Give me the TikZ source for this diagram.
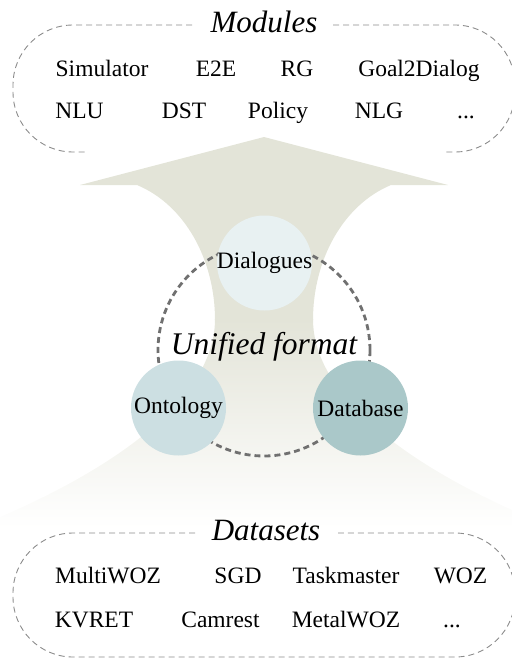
\documentclass[tikz,border=0pt]{standalone}
\usepackage{fontspec}
\setmainfont{Liberation Serif}
\usepackage{tikz}

\definecolor{arrowc}{HTML}{E3E4D8}
\definecolor{dialc}{HTML}{E8F1F2}
\definecolor{ontoc}{HTML}{CCDFE2}
\definecolor{datac}{HTML}{AAC8C9}
\definecolor{boxc}{HTML}{8C8C8C}
\definecolor{ringc}{HTML}{707070}

\tikzset{
	boxline/.style={draw=boxc, line width=0.9pt, dash pattern=on 6pt off 4pt, rounded corners=60pt},
	ring/.style={draw=ringc, line width=2.8pt, dash pattern=on 6pt off 4pt},
	blob/.style={circle, minimum size=95pt, inner sep=0pt},
	item/.style={font=\fontsize{23.5}{28}\selectfont, anchor=base},
	title/.style={font=\fontsize{31}{36}\selectfont\itshape, anchor=base}
}

\begin{document}
\begin{tikzpicture}[x=1pt, y=-1pt]
			\useasboundingbox (0,0) rectangle (511,658);
			% arrow
			\fill[arrowc] (264,137) -- (448,185) -- (391,185)
			.. controls (343,205) and (313,260) .. (313,320) -- (215,320)
			.. controls (215,260) and (185,205) .. (137,185) -- (80,185) -- cycle;
			\shade[top color=arrowc, middle color=arrowc!80, bottom color=white]
			(215,319) .. controls (215,400) and (110,470) .. (0,517) -- (0,528)
			-- (528,528) -- (528,517) .. controls (418,470) and (313,400) .. (313,319) -- cycle;
			% boxes
			\draw[boxline] (192,25) -- (13,25) -- (13,152) -- (85,152);
			\draw[boxline] (333,25) -- (515,25) -- (515,152) -- (443,152);
			\draw[boxline] (195,533) -- (13,533) -- (13,657) -- (515,657) -- (515,533) -- (338,533);
			\node[title] (mods) at (264,33) {Modules};
			\node[title] (sets) at (266,540) {Datasets};
			% modules
			\node[item] (sim) at (102,77) {Simulator};
			\node[item] (e2e) at (216,77) {E2E};
			\node[item] (rg) at (297,77) {RG};
			\node[item] (g2d) at (419,77) {Goal2Dialog};
			\node[item] (nlu) at (79.5,119) {NLU};
			\node[item] (dst) at (184,119) {DST};
			\node[item] (pol) at (278,119) {Policy};
			\node[item] (nlg) at (379,119) {NLG};
			\node[item] (mdots) at (466,119) {...};
			% unified format
			\draw[ring] (264,350) circle[radius=106pt];
			\node[blob, fill=dialc] (dial) at (264.5,263) {};
			\node[blob, fill=ontoc] (onto) at (178.5,408) {};
			\node[blob, fill=datac] (db) at (360.5,408) {};
			\node[item, anchor=center] at (dial) {Dialogues};
			\node[item, anchor=center] at (onto) {Ontology};
			\node[item, anchor=center] at (db) {Database};
			\node[title, font=\fontsize{31.5}{36}\selectfont\itshape] (uni) at (264,354) {Unified format};
			% datasets
			\node[item] (mwoz) at (108,583) {MultiWOZ};
			\node[item] (sgd) at (238,583) {SGD};
			\node[item] (tm) at (346,583) {Taskmaster};
			\node[item] (woz) at (460.5,583) {WOZ};
			\node[item] (kvr) at (94,627) {KVRET};
			\node[item] (cam) at (220.5,627) {Camrest};
			\node[item] (metal) at (346,627) {MetalWOZ};
			\node[item] (ddots) at (452,627) {...};
			\end{tikzpicture}
\end{document}
